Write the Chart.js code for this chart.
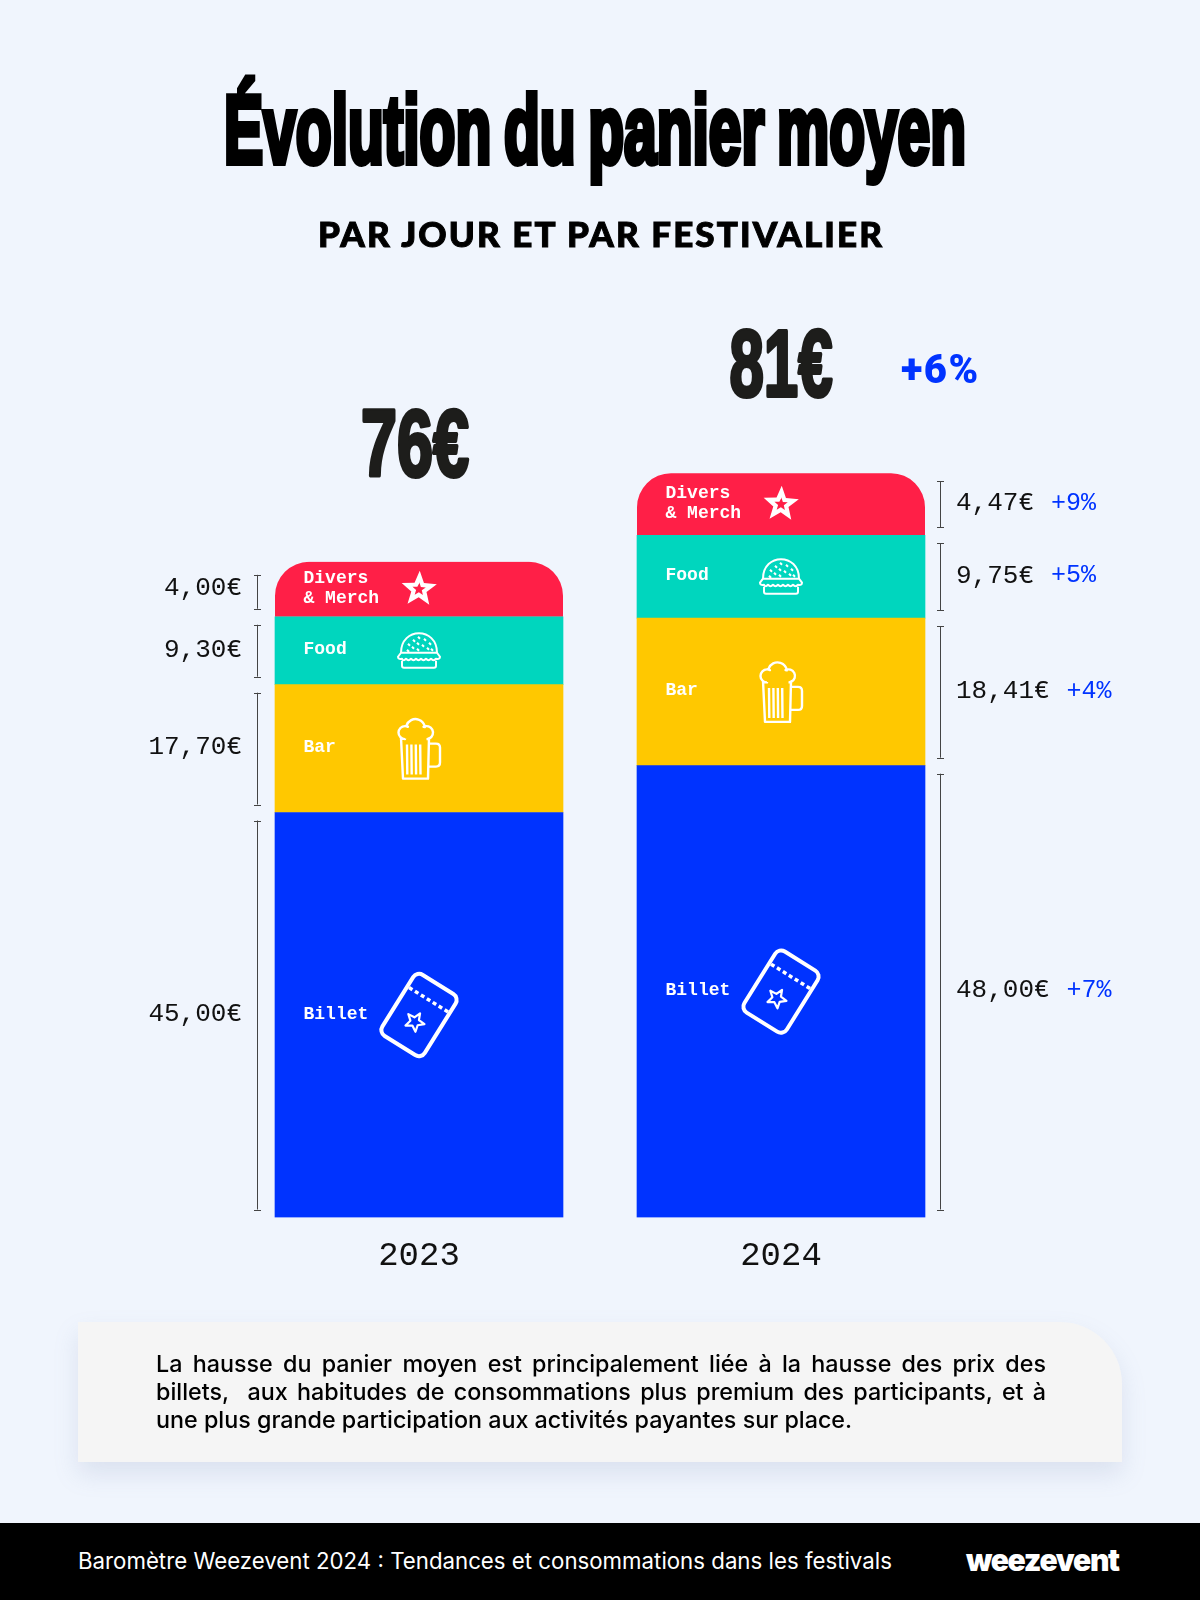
<!DOCTYPE html>
<html lang="fr">
<head>
<meta charset="utf-8">
<title>Évolution du panier moyen</title>
<script src="https://cdn.jsdelivr.net/npm/chart.js@4"></script>
<style>
  html, body { margin: 0; background: #f0f5fd; }
  #page { position: relative; width: 1200px; height: 1600px; overflow: hidden; background: #f0f5fd; }
  #graph { position: absolute; left: 0; top: 0; }
  .abs { position: absolute; white-space: nowrap; }
  #titre { left: -12px; width: 1200px; top: 74px; text-align: center; font: bold 96px/112px "Liberation Sans", sans-serif; color: #000; }
  #titre span { display: inline-block; -webkit-text-stroke: 6px #000; letter-spacing: 0; word-spacing: -6px; }
  #sousTitre { left: 1px; width: 1200px; top: 212px; text-align: center; font: 900 35px Lato, sans-serif; letter-spacing: 2.1px; color: #000; -webkit-text-stroke: 1px #000; }
  #note { left: 78px; top: 1322px; width: 1044px; height: 140px; background: #f5f5f5; border-top-right-radius: 62px; box-shadow: 0 12px 24px rgba(120,140,180,.18); }
  .ligne { position: absolute; left: 78px; width: 890px; font: 500 23.3px/28px Inter, sans-serif; color: #000; white-space: normal; }
  .just { text-align: justify; text-align-last: justify; }
  #bas { left: 0; top: 1523px; width: 1200px; height: 77px; background: #000; }
  #source { left: 78px; top: 23px; font: 400 22.25px/30px Inter, sans-serif; color: #fff; }
  #logo { left: 966px; top: 19px; font: 900 30px/36px Inter, sans-serif; letter-spacing: -1.3px; color: #fff; }
</style>
</head>
<body>
<div id="page">
  <canvas id="graph" width="1200" height="1600"></canvas>
  <div class="abs" id="titre"><span>Évolution du panier moyen</span></div>
  <div class="abs" id="sousTitre">PAR JOUR ET PAR FESTIVALIER</div>
  <div class="abs" id="note">
    <div class="ligne just" style="top:28px">La hausse du panier moyen est principalement liée à la hausse des prix des</div>
    <div class="ligne just" style="top:56px">billets,&nbsp; aux habitudes de consommations plus premium des participants, et à</div>
    <div class="ligne" style="top:84px">une plus grande participation aux activités payantes sur place.</div>
  </div>
  <div class="abs" id="bas">
    <div class="abs" id="source">Baromètre Weezevent 2024 : Tendances et consommations dans les festivals</div>
    <div class="abs" id="logo">weezevent</div>
  </div>
</div>
<script>
const annees = ["2023", "2024"];
const categories = ["Billet", "Bar", "Food", "Divers & Merch"];

// hauteurs dessinees (axe ou Billet 2023 = 45) :
// l'original n'est pas a l'echelle de ses propres etiquettes
const billetHauteur = [45, 50.2];
const barHauteur = [14.2, 16.4];
const foodHauteur = [7.55, 9.2];
const diversHauteur = [6.1, 6.9];

// valeurs imprimees
const billetTexte = ["45,00€", "48,00€"];
const barTexte = ["17,70€", "18,41€"];
const foodTexte = ["9,30€", "9,75€"];
const diversTexte = ["4,00€", "4,47€"];
const billetEvol = ["", "+7%"];
const barEvol = ["", "+4%"];
const foodEvol = ["", "+5%"];
const diversEvol = ["", "+9%"];
const totaux = ["76€", "81€"];
const evolTotale = "+6%";

const couleurs = ["#0033ff", "#ffc800", "#00d6be", "#ff1f47"];
const textes = [billetTexte, barTexte, foodTexte, diversTexte];
const evols = [billetEvol, barEvol, foodEvol, diversEvol];
const mono = '"Liberation Mono", "DejaVu Sans Mono", monospace';
const gras = '"Liberation Sans", sans-serif';

// titre tres condense : la police d'origine n'existe pas ici, on serre a la largeur voulue
const titreSpan = document.querySelector("#titre span");
titreSpan.style.transform = "scaleX(" + (742 / titreSpan.offsetWidth) + ")";

// --- Icones blanches, centrees sur (0,0) ---
const star = (ctx, R, r) => {
  for (let i = 0; i < 10; i++) {
    const a = -Math.PI / 2 + i * Math.PI / 5;
    const d = i % 2 ? r : R;
    ctx.lineTo(Math.cos(a) * d, Math.sin(a) * d);
  }
  ctx.closePath();
};

const iconeDivers = ctx => {
  ctx.fillStyle = "#fff";
  ctx.rotate(0.04);
  ctx.beginPath();
  star(ctx, 18.5, 8);
  ctx.moveTo(0, -6);
  star(ctx, 7, 3);
  ctx.fill("evenodd");
};

const iconeFood = ctx => {
  ctx.lineWidth = 2;
  ctx.beginPath();
  ctx.moveTo(-18, 2);
  ctx.bezierCurveTo(-18, -24, 18, -24, 18, 2);
  ctx.moveTo(-18, 2);
  ctx.lineTo(-21, 6);
  ctx.quadraticCurveTo(-21, 9, -17, 8);
  for (let x = -13; x <= 17; x += 5) ctx.quadraticCurveTo(x - 2.5, 11, x, 8);
  ctx.quadraticCurveTo(21, 9, 21, 6);
  ctx.lineTo(18, 2);
  ctx.lineTo(-18, 2);
  ctx.moveTo(-17, 10);
  ctx.lineTo(-17, 15);
  ctx.quadraticCurveTo(-17, 17, -15, 17);
  ctx.lineTo(15, 17);
  ctx.quadraticCurveTo(17, 17, 17, 15);
  ctx.lineTo(17, 10);
  // graines
  [[-11, -7], [-6, -11], [-1, -14], [5, -12], [10, -8], [-7, -4], [-2, -8], [3, -6], [8, -3], [12, -2], [-12, -1], [-2, -2]].forEach(p => {
    ctx.moveTo(p[0], p[1]);
    ctx.lineTo(p[0] + 2, p[1] + 2);
  });
  ctx.stroke();
};

const iconeBar = ctx => {
  ctx.lineWidth = 2.4;
  ctx.beginPath();
  // mousse
  ctx.moveTo(-14, -10);
  ctx.arc(-14, -16, 6.5, Math.PI / 2, -Math.PI * 0.35);
  ctx.arc(-3.5, -20, 9.5, Math.PI * 1.1, -Math.PI * 0.05);
  ctx.arc(7.5, -16, 6.5, -Math.PI * 0.65, Math.PI / 2);
  // chope
  ctx.moveTo(-18, -11);
  ctx.lineTo(-16, 30);
  ctx.lineTo(9, 30);
  ctx.lineTo(10, -11);
  ctx.moveTo(10, -5);
  ctx.lineTo(17, -5);
  ctx.quadraticCurveTo(21, -5, 21, -1);
  ctx.lineTo(21, 14);
  ctx.quadraticCurveTo(21, 18, 17, 18);
  ctx.lineTo(9, 18);
  for (let x = -12; x <= 5; x += 4.4) {
    ctx.moveTo(x, -4);
    ctx.lineTo(x + 0.3, 26);
  }
  ctx.stroke();
};

const iconeBillet = ctx => {
  ctx.rotate(32 * Math.PI / 180);
  ctx.lineWidth = 4;
  ctx.beginPath();
  ctx.roundRect(-25, -36, 50, 72, 7);
  ctx.stroke();
  ctx.lineWidth = 3.5;
  ctx.setLineDash([4, 3]);
  ctx.beginPath();
  ctx.moveTo(-23, -18);
  ctx.lineTo(23, -18);
  ctx.stroke();
  ctx.setLineDash([]);
  ctx.lineWidth = 2.2;
  ctx.translate(0, 8);
  ctx.beginPath();
  star(ctx, 10, 4.5);
  ctx.stroke();
};

const icones = [iconeBillet, iconeBar, iconeFood, iconeDivers];

// --- Etiquettes, accolades, totaux ---
const habillage = {
  id: "habillage",
  // Chart.js limite borderRadius a la demi-hauteur de la barre, donc on arrondit par clip
  beforeDatasetDraw(chart, args) {
    if (args.index !== 3) return;
    const ctx = chart.ctx;
    ctx.save();
    ctx.beginPath();
    args.meta.data.forEach(b => {
      ctx.roundRect(b.x - b.width / 2, b.y, b.width, b.base - b.y, [34, 34, 0, 0]);
    });
    ctx.clip();
  },
  afterDatasetDraw(chart, args) {
    if (args.index === 3) chart.ctx.restore();
  },
  afterDatasetsDraw(chart) {
    const ctx = chart.ctx;
    chart.data.datasets.forEach((ds, d) => {
      const meta = chart.getDatasetMeta(d);
      meta.data.forEach((barre, i) => {
        const haut = barre.y;
        const bas = barre.base;
        const milieu = (haut + bas) / 2;
        const gauche = barre.x - barre.width / 2;
        const droite = barre.x + barre.width / 2;

        ctx.save();
        ctx.fillStyle = "#fff";
        ctx.textBaseline = "middle";
        ctx.textAlign = "left";
        ctx.font = "bold 18px " + mono;
        const lignes = categories[d] === "Divers & Merch" ? ["Divers", "& Merch"] : [categories[d]];
        lignes.forEach((txt, k) => {
          ctx.fillText(txt, gauche + 28.5, milieu - 1 + (k - (lignes.length - 1) / 2) * 20);
        });

        ctx.translate(barre.x, milieu);
        ctx.strokeStyle = "#fff";
        ctx.lineJoin = "round";
        icones[d](ctx);
        ctx.restore();

        // accolade a gauche pour 2023, a droite pour 2024
        const xAcc = i === 0 ? gauche - 18 : droite + 15;
        const retrait = d === 3 && i === 0 ? 13 : 8;
        ctx.save();
        ctx.strokeStyle = "#444";
        ctx.lineWidth = 1;
        ctx.beginPath();
        ctx.moveTo(xAcc + 0.5, haut + retrait);
        ctx.lineTo(xAcc + 0.5, bas - 8);
        ctx.moveTo(xAcc - 3, Math.round(haut + retrait) + 0.5);
        ctx.lineTo(xAcc + 4, Math.round(haut + retrait) + 0.5);
        ctx.moveTo(xAcc - 3, Math.round(bas - 8) + 0.5);
        ctx.lineTo(xAcc + 4, Math.round(bas - 8) + 0.5);
        ctx.stroke();

        ctx.font = "26px " + mono;
        ctx.textBaseline = "middle";
        ctx.fillStyle = "#111";
        if (i === 0) {
          ctx.textAlign = "right";
          ctx.fillText(textes[d][i], xAcc - 15, milieu - 1);
        } else {
          ctx.textAlign = "left";
          ctx.fillText(textes[d][i], xAcc + 16, milieu - 1);
          const l = ctx.measureText(textes[d][i]).width;
          ctx.fillStyle = "#0033ff";
          ctx.font = "25px " + mono;
          ctx.fillText(evols[d][i], xAcc + 16 + l + 17, milieu - 1);
        }
        ctx.restore();
      });
    });

    // totaux au dessus des piles
    const dernier = chart.getDatasetMeta(chart.data.datasets.length - 1);
    dernier.data.forEach((barre, i) => {
      ctx.save();
      ctx.translate(barre.x - (i === 0 ? 4 : 0), barre.y - (i === 0 ? 86 : 77));
      ctx.font = "bold 94px " + gras;
      const larg = ctx.measureText(totaux[i]).width;
      ctx.scale((i === 0 ? 108 : 103) / larg, 1);
      ctx.textAlign = "center";
      ctx.textBaseline = "alphabetic";
      ctx.lineJoin = "round";
      ctx.fillStyle = "#1d1d1b";
      ctx.strokeStyle = "#1d1d1b";
      ctx.lineWidth = 4;
      ctx.strokeText(totaux[i], 0, 0);
      ctx.fillText(totaux[i], 0, 0);
      ctx.restore();
    });

    const b = dernier.data[1];
    ctx.save();
    ctx.font = "900 40px Roboto, sans-serif";
    ctx.fillStyle = "#0033ff";
    ctx.textAlign = "left";
    ctx.textBaseline = "middle";
    ctx.letterSpacing = "1.5px";
    ctx.fillText(evolTotale, b.x + 120, b.y - 100);
    ctx.restore();
  }
};

new Chart(document.getElementById("graph"), {
  type: "bar",
  data: {
    labels: annees,
    datasets: [
      { label: categories[0], data: billetHauteur, backgroundColor: couleurs[0] },
      { label: categories[1], data: barHauteur, backgroundColor: couleurs[1] },
      { label: categories[2], data: foodHauteur, backgroundColor: couleurs[2] },
      { label: categories[3], data: diversHauteur, backgroundColor: couleurs[3] }
    ]
  },
  options: {
    responsive: false,
    animation: false,
    barThickness: 288,
    layout: { padding: { left: 238, right: 238, top: 317.5, bottom: 0 } },
    plugins: { legend: { display: false }, tooltip: { enabled: false } },
    scales: {
      x: {
        stacked: true,
        grid: { display: false },
        border: { display: false },
        ticks: { color: "#111", font: { family: mono, size: 34 }, padding: 10 },
        afterFit(scale) { scale.height = 382.5; }
      },
      y: {
        stacked: true,
        display: false,
        min: 0,
        max: 100
      }
    }
  },
  plugins: [habillage]
});
</script>
</body>
</html>
